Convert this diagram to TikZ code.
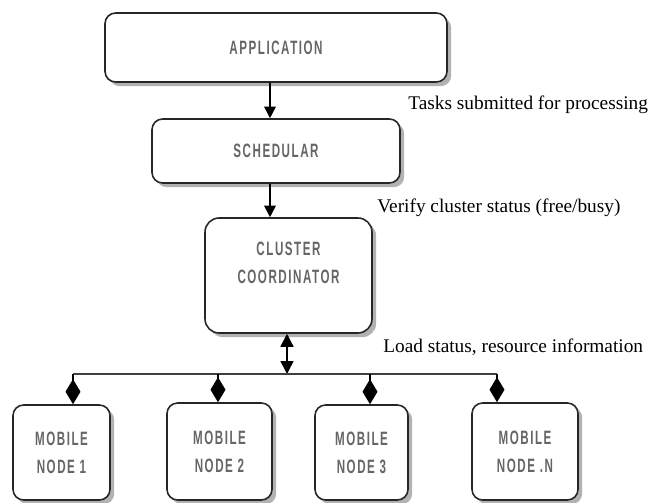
\documentclass[tikz,border=0pt]{standalone}
\usepackage{fontspec}
\setmainfont{Liberation Serif}
\newfontfamily\boxfont[FakeStretch=0.6, LetterSpace=8]{Liberation Sans Bold}
\usetikzlibrary{arrows.meta,shadows}

\begin{document}
\begin{tikzpicture}[
  x=0.02cm, y=-0.02cm,
  box/.style={draw=black!85, line width=0.9pt, rounded corners=6pt, rectangle, fill=white, align=center, font=\boxfont\fontsize{11}{16}\selectfont, text=black!60, drop shadow={shadow xshift=2.4pt, shadow yshift=-2.4pt, fill=black!60}},
  note/.style={anchor=west, inner sep=0pt, font=\fontsize{11}{13}\selectfont},
  arr/.style={-{Triangle[length=2.3mm,width=2.3mm]}, line width=0.9pt},
  both/.style={{Triangle[length=2.6mm,width=2.6mm]}-{Triangle[length=2.6mm,width=2.6mm]}, line width=0.9pt},
  tap/.style={-{Diamond[length=5mm,width=3mm]}, line width=0.9pt},
  bus/.style={line width=1pt, draw=black!75}
]
\useasboundingbox (0,0) rectangle (656,503);

\node[box, minimum width=6.84cm, minimum height=1.38cm] (app) at (276,47.5) {APPLICATION};
\node[box, minimum width=4.96cm, minimum height=1.28cm] (sched) at (276,151) {SCHEDULAR};
\node[box, minimum width=3.34cm, minimum height=2.3cm, rounded corners=8pt] (coord) at (288.5,275.5) {CLUSTER\\COORDINATOR\\[-1pt]};
\node[box, minimum width=1.94cm, minimum height=1.9cm] (mob1) at (61.5,452.5) {MOBILE\\NODE 1};
\node[box, minimum width=2.1cm, minimum height=1.94cm] (mob2) at (219.5,451.5) {MOBILE\\NODE 2};
\node[box, minimum width=1.86cm, minimum height=1.9cm] (mob3) at (361.5,452.5) {MOBILE\\NODE 3};
\node[box, minimum width=2.12cm, minimum height=1.94cm] (mobn) at (525,451.5) {MOBILE\\NODE .N};

\node[note] (tasks) at (408,105) {Tasks submitted for processing};
\node[note] (verify) at (377,208) {Verify cluster status (free/busy)};
\node[note] (load) at (383,347) {Load status, resource information};

\coordinate (spine) at (270,0);
\coordinate (hub) at (287,374);
\coordinate (bus1) at (73,374);
\coordinate (bus2) at (218,374);
\coordinate (bus3) at (370,374);
\coordinate (busn) at (497,374);

\draw[arr] (app.south -| spine) -- (sched.north -| spine);
\draw[arr] (sched.south -| spine) -- (coord.north -| spine);
\draw[both] (coord.south -| hub) -- (hub);
\draw[bus] (bus1) -- (busn);
\draw[tap] (bus1) -- (bus1 |- mob1.north);
\draw[tap] (bus2) -- (bus2 |- mob2.north);
\draw[tap] (bus3) -- (bus3 |- mob3.north);
\draw[tap] (busn) -- (busn |- mobn.north);
\end{tikzpicture}
\end{document}
